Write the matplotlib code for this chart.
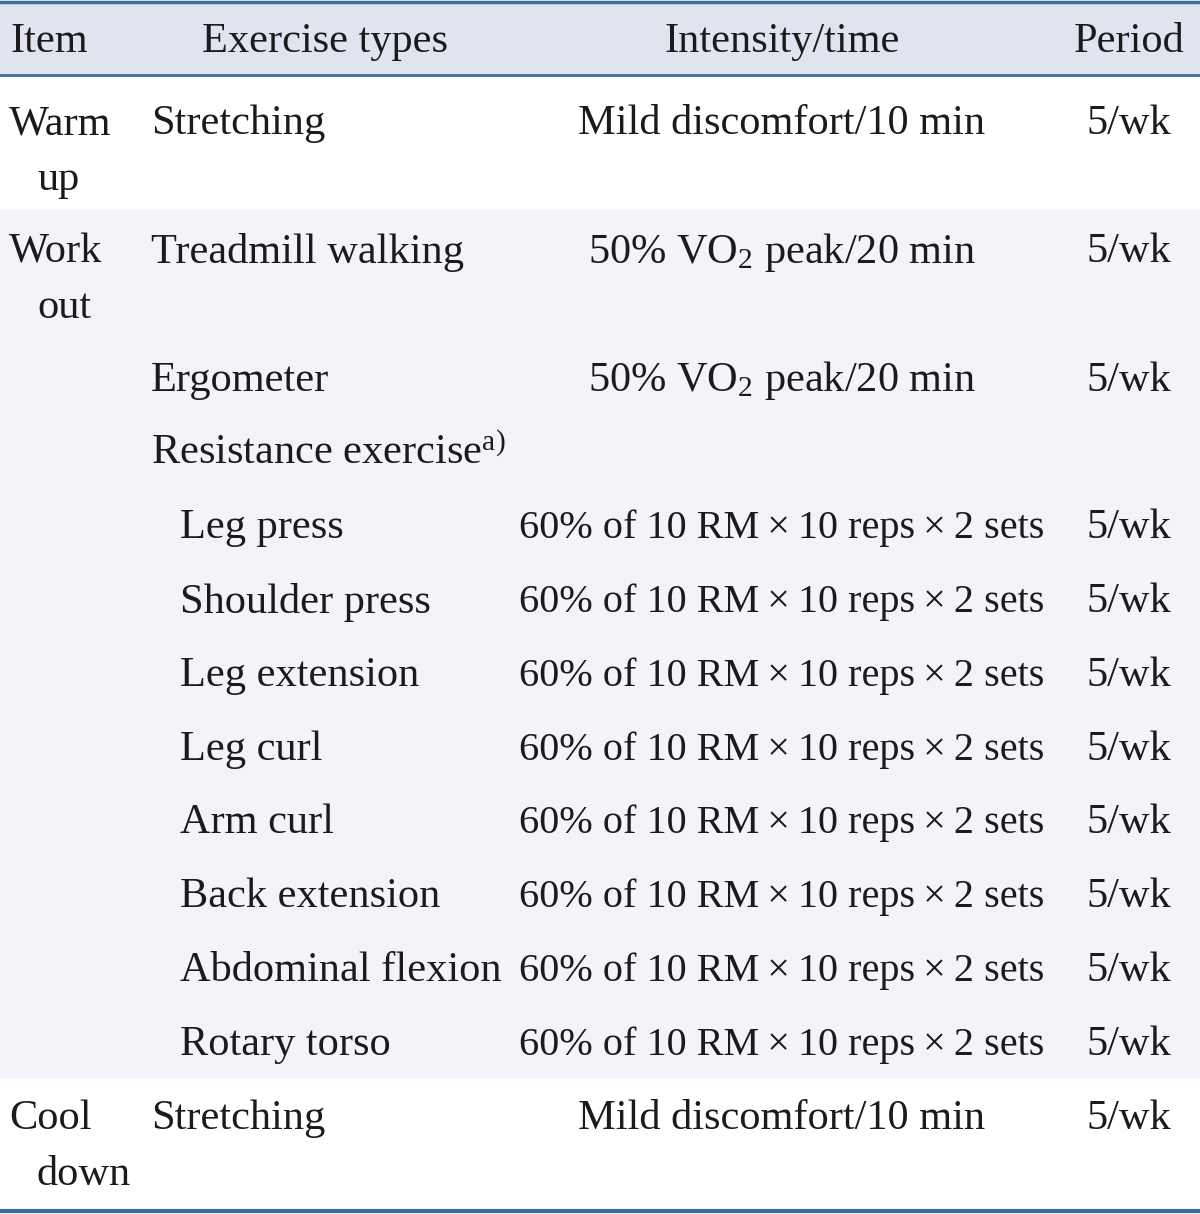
import matplotlib.pyplot as plt
from matplotlib.patches import Rectangle

plt.rcParams['font.family'] = ['Liberation Serif', 'DejaVu Serif']
plt.rcParams['mathtext.fontset'] = 'custom'
plt.rcParams['mathtext.rm'] = 'Liberation Serif'
plt.rcParams['mathtext.it'] = 'Liberation Serif'

headers = ["Item", "Exercise types", "Intensity/time", "Period"]

# one entry per table line
items = ["Warm\nup", "Work\nout", "", "", "", "", "", "", "", "", "", "", "Cool\ndown"]
exercises = ["Stretching", "Treadmill walking", "Ergometer",
             r"Resistance exercise$^{\mathregular{a)}}$",
             "Leg press", "Shoulder press", "Leg extension", "Leg curl",
             "Arm curl", "Back extension", "Abdominal flexion", "Rotary torso",
             "Stretching"]
sub_item = [False, False, False, False, True, True, True, True, True, True, True, True, False]
rm = "60% of 10 RM\u2009\u00d7\u200910 reps\u2009\u00d7\u20092 sets"
intensity = ["Mild discomfort/10 min", r"50% VO$\mathregular{_2}$ peak/20 min",
             r"50% VO$\mathregular{_2}$ peak/20 min", ""] + [rm] * 8 + ["Mild discomfort/10 min"]
period = ["5/wk", "5/wk", "5/wk", ""] + ["5/wk"] * 8 + ["5/wk"]

row_y = [120, 248, 377, 450, 524, 598, 672, 746, 819, 893, 967, 1041, 1115]

fig = plt.figure(figsize=(12, 12.14), dpi=100)
ax = fig.add_axes([0, 0, 1, 1])
ax.set_xlim(0, 1200)
ax.set_ylim(1214, 0)
ax.axis("off")

line_c = "#3b6e9c"
txt_c = "#1c1a1b"
fs = 30.5
dy = 4

# header band and shaded work-out band
ax.add_patch(Rectangle((0, 2), 1200, 73, color="#dfe4ef", zorder=0))
ax.add_patch(Rectangle((0, 210), 1200, 867, color="#f2f4f9", zorder=0))
ax.plot([0, 1200], [2, 2], color=line_c, lw=2.5)
ax.plot([0, 1200], [75, 75], color=line_c, lw=2)
ax.plot([0, 1200], [1211, 1211], color=line_c, lw=3)

hx = [10, 325, 782, 1129]
ha = ["left", "center", "center", "center"]
for x, a, h in zip(hx, ha, headers):
    ax.text(x, 38 + dy, h, ha=a, va="center", fontsize=fs, color=txt_c)

for i, y in enumerate(row_y):
    y = y + dy
    if items[i]:
        first, second = items[i].split("\n")
        ax.text(9, y, first, ha="left", va="center", fontsize=fs, color=txt_c)
        ax.text(37, y + 56, second, ha="left", va="center", fontsize=fs, color=txt_c)
    ex_x = 180 if sub_item[i] else 151
    ax.text(ex_x, y, exercises[i], ha="left", va="center", fontsize=fs, color=txt_c)
    if intensity[i]:
        f = 29 if intensity[i] == rm else fs
        ax.text(782, y, intensity[i], ha="center", va="center", fontsize=f, color=txt_c)
    if period[i]:
        ax.text(1129, y, period[i], ha="center", va="center", fontsize=fs, color=txt_c)

fig.savefig("out.png", dpi=100)
